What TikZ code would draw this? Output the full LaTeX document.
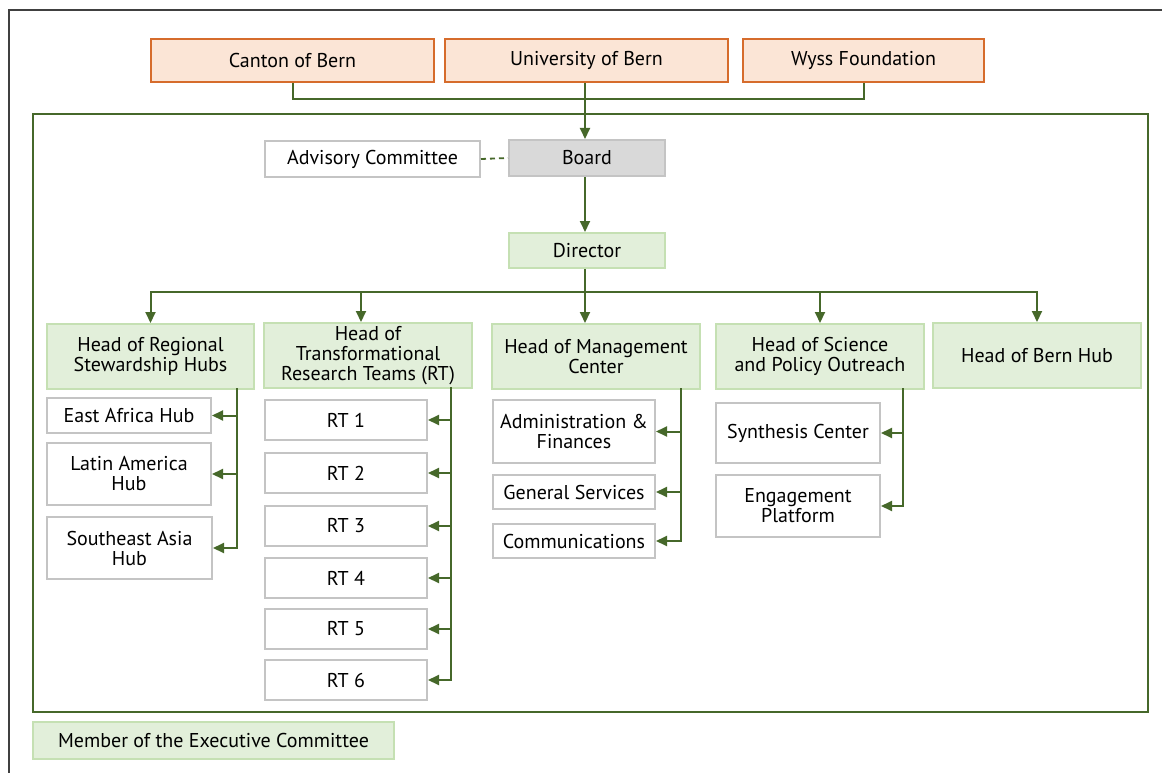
\documentclass[tikz,border=0pt]{standalone}
\usepackage{fontspec}
\setmainfont{PT Sans}
\usetikzlibrary{arrows.meta,calc}
\definecolor{conn}{RGB}{70,104,42}
\definecolor{gfill}{RGB}{226,239,218}
\definecolor{gline}{RGB}{197,224,179}
\definecolor{ofill}{RGB}{251,229,214}
\definecolor{oline}{RGB}{214,108,44}
\definecolor{bline}{RGB}{196,196,196}
\definecolor{bfill}{RGB}{217,217,217}
\definecolor{frame}{RGB}{64,64,64}
\begin{document}
\begin{tikzpicture}[x=1pt,y=-1pt,
  box/.style={draw, line width=2pt, anchor=north west, inner sep=0pt, align=center,
    font=\fontsize{20}{20}\selectfont},
  orangebox/.style={box, draw=oline, fill=ofill},
  greenbox/.style={box, draw=gline, fill=gfill},
  whitebox/.style={box, draw=bline, fill=white},
  graybox/.style={box, draw=bline, fill=bfill},
  line/.style={draw=conn, line width=2pt},
  arr/.style={line, -{Triangle[length=11pt,width=10pt]}},
]
\useasboundingbox (0,0) rectangle (1162,773);
\fill[white] (0,0) rectangle (1162,773);
% outer frame (partial)
\draw[frame, line width=1.3pt] (9,773) -- (9,10) -- (1162,10);
% inner green frame
\draw[conn, line width=1.8pt] (33,114) rectangle (1148,712);

% top boxes
\node[orangebox, minimum width=283, minimum height=43] (cb) at (150,38) {Canton of Bern};
\node[orangebox, minimum width=283, minimum height=43] (ub) at (444,38) {University of Bern};
\node[orangebox, minimum width=241, minimum height=43] (wy) at (742,38) {Wyss Foundation};

% board level
\node[whitebox, minimum width=215, minimum height=36] (adv) at (264,140) {Advisory Committee};
\node[graybox, minimum width=156, minimum height=36] (board) at (508,139) {Board};
\node[greenbox, minimum width=156, minimum height=35] (dir) at (508,232) {Director};

% heads
\node[greenbox, minimum width=207, minimum height=65] (hr) at (46,323) {Head of Regional\\Stewardship Hubs};
\node[greenbox, minimum width=208, minimum height=65] (rt) at (263,322) {Head of\\Transformational\\Research Teams (RT)};
\node[greenbox, minimum width=208, minimum height=65] (hm) at (491,323) {Head of Management\\Center};
\node[greenbox, minimum width=208, minimum height=65] (hs) at (715,323) {Head of Science\\and Policy Outreach};
\node[greenbox, minimum width=208, minimum height=65] (hb) at (932,322) {Head of Bern Hub};

% regional hubs
\node[whitebox, minimum width=164, minimum height=35] (ea) at (46,397) {East Africa Hub};
\node[whitebox, minimum width=164, minimum height=62] (la) at (46,442) {Latin America\\Hub};
\node[whitebox, minimum width=165, minimum height=62] (sa) at (46,516) {Southeast Asia\\Hub};

% research teams
\node[whitebox, minimum width=162, minimum height=40] (rt1) at (264,399) {RT 1};
\node[whitebox, minimum width=162, minimum height=40] (rt2) at (264,452) {RT 2};
\node[whitebox, minimum width=162, minimum height=40] (rt3) at (264,505) {RT 3};
\node[whitebox, minimum width=162, minimum height=40] (rt4) at (264,557) {RT 4};
\node[whitebox, minimum width=162, minimum height=40] (rt5) at (264,608) {RT 5};
\node[whitebox, minimum width=162, minimum height=40] (rt6) at (264,659) {RT 6};

% management center
\node[whitebox, minimum width=162, minimum height=63] (af) at (492,399) {Administration \&\\Finances};
\node[whitebox, minimum width=162, minimum height=34] (gs) at (492,474) {General Services};
\node[whitebox, minimum width=162, minimum height=34] (cm) at (492,523) {Communications};

% science and policy
\node[whitebox, minimum width=164, minimum height=60] (sc) at (715,402) {Synthesis Center};
\node[whitebox, minimum width=164, minimum height=62] (ep) at (715,474) {Engagement\\Platform};

% legend
\node[greenbox, minimum width=361, minimum height=37] (leg) at (32,721) {Member of the Executive Committee};

% connectors: founders to board
\coordinate (tj) at (585,99);
\draw[line] (cb.south) |- (tj) -| (wy.south);
\draw[arr] (ub.south -| tj) -- (board.north -| tj);
\draw[conn, line width=1.8pt, dash pattern=on 5pt off 4pt] (adv.east) -- (board.west);
\draw[arr] (board.south -| tj) -- (dir.north -| tj);

% director to heads
\coordinate (bus) at (585,292);
\draw[line] (dir.south -| bus) -- (bus);
\draw[arr] (bus) -| (hr.north);
\draw[arr] (bus) -| ([xshift=-7pt]rt.north);
\draw[arr] (bus) -- (bus |- hm.north);
\draw[arr] (bus) -| (hs.north);
\draw[arr] (bus) -| (hb.north);

% heads to units
\coordinate (hrx) at (237,388);
\draw[arr] (hrx) |- (ea.east);
\draw[arr] (hrx) |- (la.east);
\draw[arr] (hrx) |- (sa.east);

\coordinate (rtx) at (451,387);
\foreach \n in {rt1,rt2,rt3,rt4,rt5,rt6} {\draw[arr] (rtx) |- (\n.east);}

\coordinate (hmx) at (681,388);
\foreach \n in {af,gs,cm} {\draw[arr] (hmx) |- (\n.east);}

\coordinate (hsx) at (903,388);
\draw[arr] (hsx) |- (sc.east);
\draw[arr] (hsx) |- (ep.east);
\end{tikzpicture}
\end{document}
